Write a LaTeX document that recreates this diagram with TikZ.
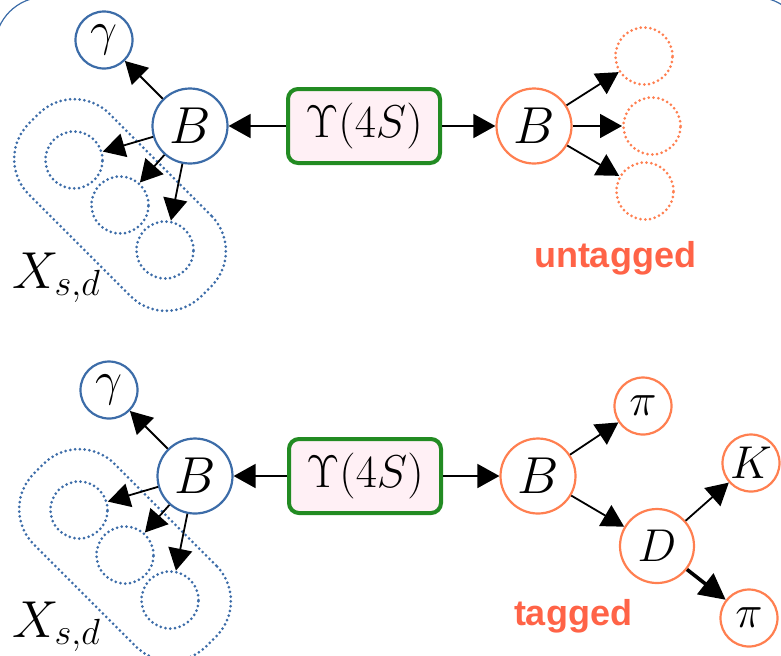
\RequirePackage{fix-cm}
\documentclass[tikz,border=0pt]{standalone}
\usepackage{fontspec}
\usepackage{amsmath}
\usetikzlibrary{positioning, arrows.meta}
\newfontfamily\tagfont{Liberation Sans}
\definecolor{bblue}{HTML}{3C6CA8}
\definecolor{bcoral}{HTML}{FF7F50}
\definecolor{tagred}{HTML}{FF6347}
\definecolor{boxgreen}{HTML}{228B22}
\definecolor{boxpink}{HTML}{FFF0F5}

\begin{document}
\begin{tikzpicture}[x=0.5pt,y=-0.5pt,>={Triangle[length=11pt,width=12pt]},on grid]
\tikzstyle{part}=[circle,draw,line width=1.1pt,minimum size=37.5pt,inner sep=0pt,font=\fontsize{26}{30}\selectfont]
\tikzstyle{small}=[part,minimum size=28.5pt,font=\fontsize{24}{28}\selectfont]
\tikzstyle{blob}=[circle,draw,line width=1.5pt,line cap=round,dash pattern=on 0pt off 2.4pt,minimum size=28.5pt,inner sep=0pt]
\tikzstyle{capsule}=[rectangle,draw=bblue,line width=1.5pt,line cap=round,dash pattern=on 0pt off 2.4pt,rounded corners=25pt,minimum width=122pt,minimum height=57pt,rotate=-45]
\tikzstyle{reso}=[rectangle,draw=boxgreen,fill=boxpink,line width=2pt,rounded corners=5pt,minimum width=76pt,minimum height=37pt,inner sep=0pt,font=\fontsize{23}{27}\selectfont]
\tikzstyle{tagtext}=[text=tagred,font=\tagfont\bfseries\fontsize{18}{20}\selectfont]
\tikzstyle{xlab}=[anchor=base west,inner sep=0pt,font=\fontsize{26}{30}\selectfont]

\useasboundingbox (0,0) rectangle (781,655);
\draw[bblue,line width=0.6pt,rounded corners=25pt] (-5,-3) rectangle (805,720);

%-- Untagged event --
\node[reso] (ups1) at (364,126) {$\Upsilon(4S)$};
\node[part,draw=bblue] (Bl1) [left=87pt of ups1] {$B$};
\node[small,draw=bblue] (g1) [above left=43pt and 43pt of Bl1] {$\gamma$};
\node[blob,draw=bblue] (x11) [below left=17pt and 58pt of Bl1] {};
\node[blob,draw=bblue] (x12) [below left=39.5pt and 35pt of Bl1] {};
\node[blob,draw=bblue] (x13) [below left=62pt and 12.5pt of Bl1] {};
\node[capsule] (xs1) at (x12) {};
\node[xlab] (xlab1) at (12,288) {$X_{s,d}$};
\node[part,draw=bcoral] (Br1) [right=85pt of ups1] {$B$};
\node[blob,draw=bcoral] (u1a) [above right=35pt and 55pt of Br1] {};
\node[blob,draw=bcoral] (u1b) [right=59pt of Br1] {};
\node[blob,draw=bcoral] (u1c) [below right=32.5pt and 55.5pt of Br1] {};
\node[tagtext] (untag) [below right=66pt and 40.5pt of Br1] {untagged};

%-- Tagged event --
\node[reso] (ups2) at (365,476) {$\Upsilon(4S)$};
\node[part,draw=bblue] (Bl2) [left=85pt of ups2] {$B$};
\node[small,draw=bblue] (g2) [above left=43pt and 43pt of Bl2] {$\gamma$};
\node[blob,draw=bblue] (x21) [below left=17pt and 58pt of Bl2] {};
\node[blob,draw=bblue] (x22) [below left=39.5pt and 35pt of Bl2] {};
\node[blob,draw=bblue] (x23) [below left=62pt and 12.5pt of Bl2] {};
\node[capsule] (xs2) at (x22) {};
\node[xlab] (xlab2) at (12,637) {$X_{s,d}$};
\node[part,draw=bcoral] (Br2) [right=86.5pt of ups2] {$B$};
\node[small,draw=bcoral,font=\fontsize{23}{27}\selectfont] (pi1) [above right=35pt and 52.5pt of Br2] {$\pi$};
\node[part,draw=bcoral,minimum size=37pt,font=\fontsize{23}{27}\selectfont] (D) [below right=35pt and 59.5pt of Br2] {$D$};
\node[small,draw=bcoral,font=\fontsize{23}{27}\selectfont] (K) [above right=41.5pt and 47pt of D] {$K$};
\node[small,draw=bcoral,font=\fontsize{23}{27}\selectfont] (pi2) [below right=36pt and 46pt of D] {$\pi$};
\node[tagtext] (tag) [below right=70pt and 17.5pt of Br2] {tagged};

%-- Decays --
\path[->,line width=0.9pt]
  % Upsilon(4S)
  (ups1) edge (Bl1)
  (ups1) edge (Br1)
  (ups2) edge (Bl2)
  (ups2) edge (Br2)

  % signal B
  (Bl1) edge (g1)
  (Bl1) edge (x11)
  (Bl1) edge (x12)
  (Bl1) edge (x13)
  (Bl2) edge (g2)
  (Bl2) edge (x21)
  (Bl2) edge (x22)
  (Bl2) edge (x23)

  % other B
  (Br1) edge (u1a)
  (Br1) edge (u1b)
  (Br1) edge (u1c)
  (Br2) edge (pi1)
  (Br2) edge (D)

  % D
  (D) edge (K)
  (D) edge[line width=1.8pt,-{Triangle[length=13pt,width=13pt]}] (pi2);

\end{tikzpicture}
\end{document}
